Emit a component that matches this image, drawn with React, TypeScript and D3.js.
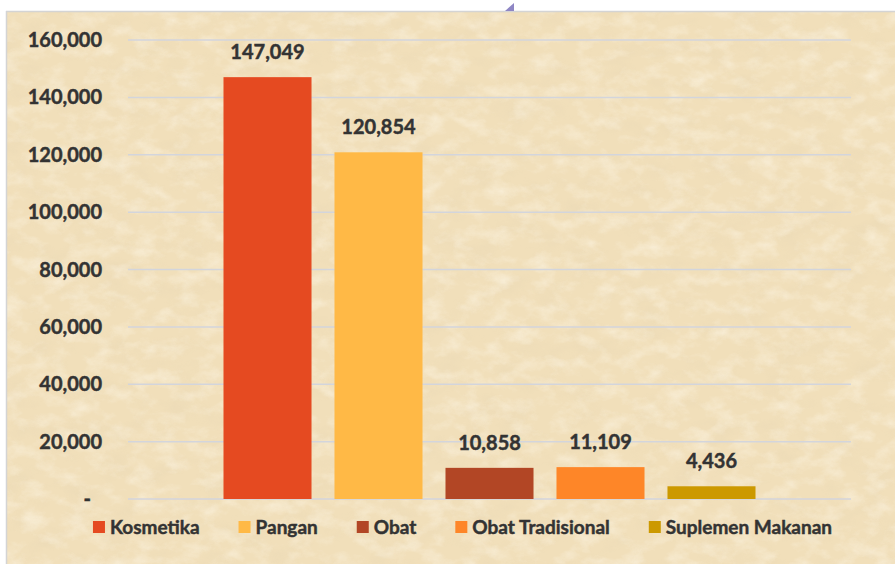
import React, { useEffect, useRef } from "react";
import * as d3 from "d3";

const categories = ["Kosmetika", "Pangan", "Obat", "Obat Tradisional", "Suplemen Makanan"];
const values = [147049, 120854, 10858, 11109, 4436];
const colors = ["#E54A21", "#FFB946", "#B24625", "#FE8628", "#CC9900"];
const yTicks = [0, 20000, 40000, 60000, 80000, 100000, 120000, 140000, 160000];

const W = 895;
const H = 564;
const FONT = "Lato, 'Open Sans', sans-serif";
const TXT = "#333333";

export default function App() {
  const ref = useRef<SVGSVGElement | null>(null);

  useEffect(() => {
    const svg = d3.select(ref.current);
    svg.selectAll("*").remove();

    const defs = svg.append("defs");
    const f = defs.append("filter").attr("id", "paperDark").attr("x", 0).attr("y", 0).attr("width", "100%").attr("height", "100%");
    f.append("feTurbulence").attr("type", "fractalNoise").attr("baseFrequency", "0.03 0.05").attr("numOctaves", 5).attr("seed", 7).attr("result", "n");
    f.append("feColorMatrix").attr("in", "n").attr("type", "matrix")
      .attr("values", "0 0 0 0 0.78  0 0 0 0 0.66  0 0 0 0 0.45  1.6 0 0 0 -0.75");
    const f2 = defs.append("filter").attr("id", "paperLight").attr("x", 0).attr("y", 0).attr("width", "100%").attr("height", "100%");
    f2.append("feTurbulence").attr("type", "fractalNoise").attr("baseFrequency", "0.045 0.07").attr("numOctaves", 5).attr("seed", 21).attr("result", "n");
    f2.append("feColorMatrix").attr("in", "n").attr("type", "matrix")
      .attr("values", "0 0 0 0 1  0 0 0 0 0.96  0 0 0 0 0.86  1.6 0 0 0 -0.7");

    // background
    svg.append("rect").attr("x", 0).attr("y", 0).attr("width", W).attr("height", H).attr("fill", "#ffffff");
    svg.append("rect").attr("x", 6).attr("y", 11).attr("width", W - 6).attr("height", H - 11).attr("fill", "#F1DFBA");
    svg.append("rect").attr("x", 6).attr("y", 11).attr("width", W - 6).attr("height", H - 11).attr("filter", "url(#paperDark)").attr("opacity", 0.42);
    svg.append("rect").attr("x", 6).attr("y", 11).attr("width", W - 6).attr("height", H - 11).attr("filter", "url(#paperLight)").attr("opacity", 0.6);
    svg.append("line").attr("x1", 6).attr("x2", W).attr("y1", 11.5).attr("y2", 11.5).attr("stroke", "#d4d4d4").attr("stroke-width", 1.5);
    svg.append("line").attr("x1", 6.5).attr("x2", 6.5).attr("y1", 11).attr("y2", H).attr("stroke", "#d4d4d4").attr("stroke-width", 1.5);
    svg.append("path").attr("d", "M505,11 L514,3 L514,11 Z").attr("fill", "#8e86c4");

    const y = d3.scaleLinear().domain([0, 160000]).range([499, 40]);
    const x0 = d3.scaleBand<string>().domain(["all"]).range([128, 851]).paddingInner(0).paddingOuter(0.1795);
    const x1 = d3.scaleBand<string>().domain(categories).range([x0("all")!, x0("all")! + x0.bandwidth()]).paddingInner(0.207).paddingOuter(0);

    // gridlines
    svg.append("g").selectAll("line").data(yTicks).join("line")
      .attr("x1", 128).attr("x2", 851)
      .attr("y1", (d) => y(d)).attr("y2", (d) => y(d))
      .attr("stroke", "#d3d5dc").attr("stroke-width", 1.5);

    const textStyle = (sel: any, size: number) =>
      sel.attr("font-family", FONT).attr("font-weight", 700).attr("font-size", size)
        .attr("fill", TXT).attr("stroke", TXT).attr("stroke-width", 0.45);

    // tick labels
    textStyle(svg.append("g").selectAll("text").data(yTicks).join("text")
      .attr("x", (d) => (d === 0 ? 91 : 102))
      .attr("y", (d) => y(d) + 7)
      .attr("text-anchor", "end"), 20)
      .text((d: number) => (d === 0 ? "-" : d3.format(",")(d)));

    // bars
    svg.append("g").selectAll("rect").data(categories).join("rect")
      .attr("x", (d) => x1(d)!)
      .attr("width", x1.bandwidth())
      .attr("y", (d, i) => y(values[i]))
      .attr("height", (d, i) => y(0) - y(values[i]))
      .attr("fill", (d, i) => colors[i]);

    // value labels
    textStyle(svg.append("g").selectAll("text").data(categories).join("text")
      .attr("x", (d) => x1(d)! + x1.bandwidth() / 2)
      .attr("y", (d, i) => y(values[i]) - 18)
      .attr("text-anchor", "middle"), 20)
      .text((d: string, i: number) => d3.format(",")(values[i]));

    // legend
    const lg = svg.append("g");
    const items = lg.selectAll("g").data(categories).join("g");
    items.append("rect").attr("width", 12).attr("height", 12).attr("y", 521).attr("fill", (d, i) => colors[i]);
    const texts = textStyle(items.append("text").attr("x", 17).attr("y", 534), 19).text((d: string) => d);
    const widths: number[] = [];
    texts.each(function (this: SVGTextElement) { widths.push(this.getComputedTextLength()); });
    const gap = 39;
    const total = widths.reduce((s, w) => s + 17 + w, 0) + gap * (widths.length - 1);
    let cx = 462.5 - total / 2;
    items.attr("transform", (d, i) => {
      const t = `translate(${cx},0)`;
      cx += 17 + widths[i] + gap;
      return t;
    });
  }, []);

  return <svg ref={ref} width={W} height={H} style={{ display: "block", position: "absolute", left: 0, top: 0 }} />;
}
